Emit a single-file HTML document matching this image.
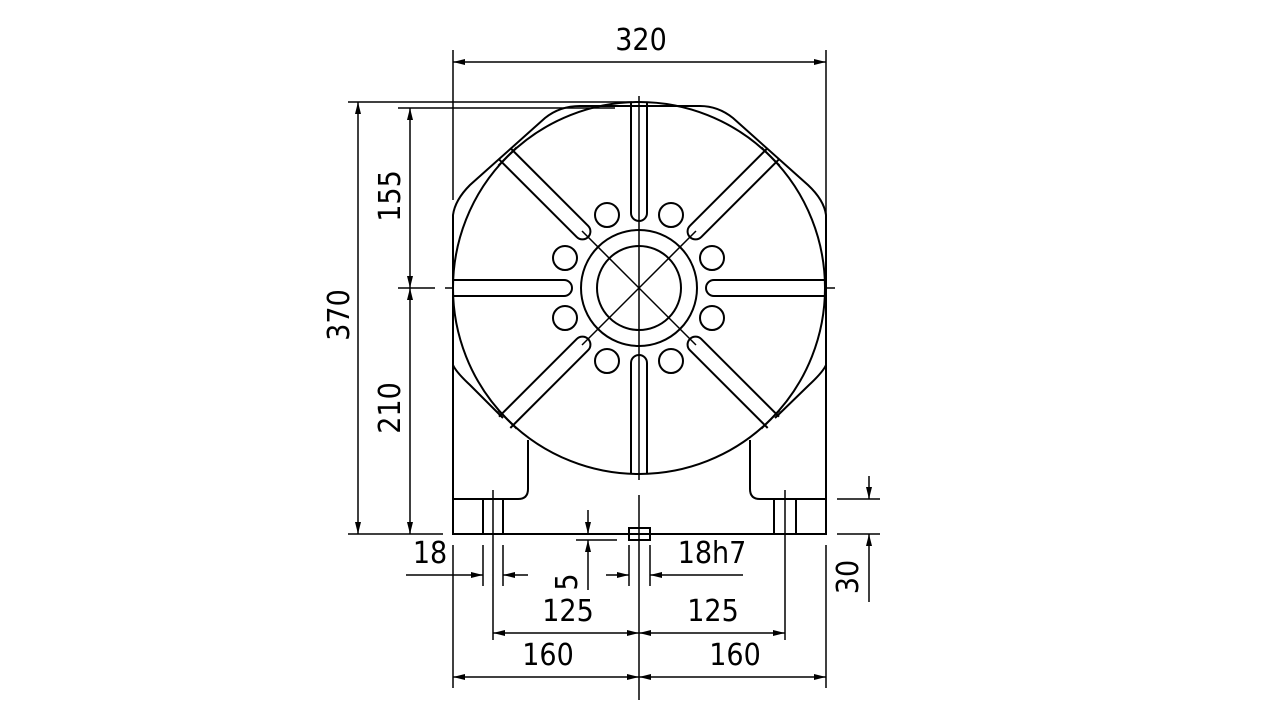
<!DOCTYPE html>
<html><head><meta charset="utf-8"><style>
html,body{margin:0;padding:0;background:#fff;width:1280px;height:720px;overflow:hidden}
svg text{font-family:"DejaVu Sans Condensed","DejaVu Sans","Liberation Sans",sans-serif;font-size:30px;fill:#000}
</style></head><body>
<svg width="1280" height="720" viewBox="0 0 1280 720" xmlns="http://www.w3.org/2000/svg">
<defs>
<marker id="a" viewBox="0 0 12 6" refX="12" refY="3" markerWidth="12" markerHeight="6" markerUnits="userSpaceOnUse" orient="auto-start-reverse"><path d="M0,0 L12,3 L0,6 z" fill="#000"/></marker>
<clipPath id="cc"><circle cx="0" cy="0" r="186"/></clipPath>
<g id="slot">
<path d="M75,-8 L192,-8 M75,8 L192,8 M75,-8 A8,8 0 0 0 75,8" fill="none"/>
</g>
<g id="dslot">
<path d="M80,-8 L190,-8 M80,8 L190,8 M80,-8 A8,8 0 0 0 80,8 M186,-13 L186,13" fill="none"/>
</g>
</defs>
<g stroke="#000" stroke-width="2" fill="none">
<path d="M453,375 L453,215 Q455,200 470,185 L545,118 Q560,106 580,106 L700,106 Q718,106 733,118 L808,185 Q824,200 826,215 L826,375"/>
<path d="M453,365 Q456,372 470,385 L503,418"/>
<path d="M826,365 Q823,372 809,385 L775,418"/>
<path d="M453,375 L453,534 L826,534 L826,375"/>
<path d="M453,499 L518,499 Q528,499 528,489 L528,440"/>
<path d="M826,499 L760,499 Q750,499 750,489 L750,440"/>
<path d="M483,499 L483,534 M503,499 L503,534 M774,499 L774,534 M796,499 L796,534"/>
<path d="M493,490 L493,545 M785,490 L785,545" stroke-width="1.5"/>
<rect x="629" y="528" width="21" height="12"/>
<circle cx="639" cy="288" r="186"/>
<circle cx="639" cy="288" r="58"/>
<circle cx="639" cy="288" r="42"/>
<g transform="translate(639,288)">
<g clip-path="url(#cc)">
<use href="#slot" transform="rotate(-90)"/>
<use href="#slot" transform="rotate(90)"/>
<use href="#slot" transform="rotate(0)"/>
<use href="#slot" transform="rotate(180)"/>
</g>
<use href="#dslot" transform="rotate(-45)"/>
<use href="#dslot" transform="rotate(-135)"/>
<use href="#dslot" transform="rotate(45)"/>
<use href="#dslot" transform="rotate(135)"/>
<path d="M-57,-57 L57,57 M57,-57 L-57,57" stroke-width="1.5"/>
<circle cx="-32" cy="-73" r="12"/><circle cx="32" cy="-73" r="12"/>
<circle cx="-74" cy="-30" r="12"/><circle cx="73" cy="-30" r="12"/>
<circle cx="-74" cy="30" r="12"/><circle cx="73" cy="30" r="12"/>
<circle cx="-32" cy="73" r="12"/><circle cx="32" cy="73" r="12"/>
</g>
<path d="M639,96 L639,480 M639,495 L639,700" stroke-width="1.5"/>
<path d="M398,288 L435,288 M445,288 L453,288 M826,288 L835,288" stroke-width="1.5"/>
</g>
<g stroke="#000" stroke-width="1.5" fill="none">
<path d="M453,50 L453,200 M826,50 L826,215"/>
<path d="M453,62 L826,62" marker-start="url(#a)" marker-end="url(#a)"/>
<path d="M348,102 L632,102 M398,108 L615,108 M348,534 L443,534"/>
<path d="M358,102 L358,534" marker-start="url(#a)" marker-end="url(#a)"/>
<path d="M410,108 L410,288" marker-start="url(#a)" marker-end="url(#a)"/>
<path d="M410,288 L410,534" marker-start="url(#a)" marker-end="url(#a)"/>
<path d="M483,545 L483,586 M503,545 L503,586"/>
<path d="M406,575 L483,575" marker-end="url(#a)"/>
<path d="M528,575 L503,575" marker-end="url(#a)"/>
<path d="M576,540 L617,540"/>
<path d="M588,510 L588,534" marker-end="url(#a)"/>
<path d="M588,590 L588,540" marker-end="url(#a)"/>
<path d="M629,545 L629,586 M650,545 L650,586"/>
<path d="M606,575 L629,575" marker-end="url(#a)"/>
<path d="M743,575 L650,575" marker-end="url(#a)"/>
<path d="M837,499 L880,499 M837,534 L880,534"/>
<path d="M869,476 L869,499" marker-end="url(#a)"/>
<path d="M869,602 L869,534" marker-end="url(#a)"/>
<path d="M453,545 L453,688 M826,545 L826,688 M493,545 L493,640 M785,545 L785,640"/>
<path d="M493,633 L639,633" marker-start="url(#a)" marker-end="url(#a)"/>
<path d="M639,633 L785,633" marker-start="url(#a)" marker-end="url(#a)"/>
<path d="M453,677 L639,677" marker-start="url(#a)" marker-end="url(#a)"/>
<path d="M639,677 L826,677" marker-start="url(#a)" marker-end="url(#a)"/>
</g>
<g>
<text x="641" y="50" text-anchor="middle">320</text>
<text transform="translate(349,315) rotate(-90)" text-anchor="middle">370</text>
<text transform="translate(400,196) rotate(-90)" text-anchor="middle">155</text>
<text transform="translate(400,408) rotate(-90)" text-anchor="middle">210</text>
<text x="430" y="563" text-anchor="middle">18</text>
<text x="712" y="563" text-anchor="middle">18h7</text>
<text transform="translate(577,582) rotate(-90)" text-anchor="middle">5</text>
<text transform="translate(858,577) rotate(-90)" text-anchor="middle">30</text>
<text x="568" y="621" text-anchor="middle">125</text>
<text x="713" y="621" text-anchor="middle">125</text>
<text x="548" y="665" text-anchor="middle">160</text>
<text x="735" y="665" text-anchor="middle">160</text>
</g>
</svg>
</body></html>
